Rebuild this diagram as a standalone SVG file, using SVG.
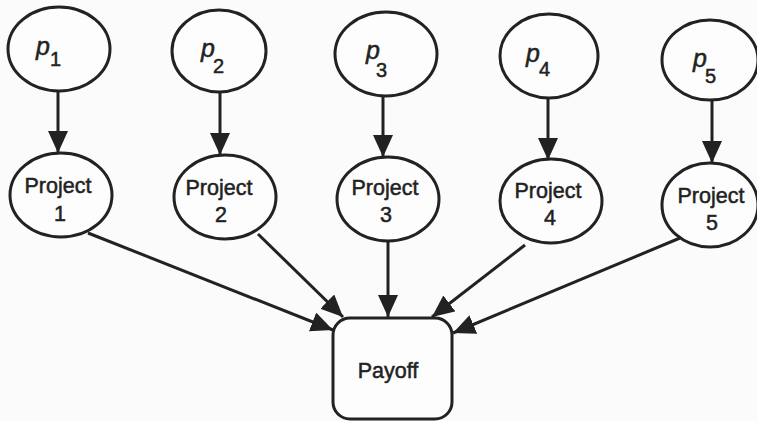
<svg xmlns="http://www.w3.org/2000/svg" width="757" height="421" viewBox="0 0 757 421">
  <style>
    .node { fill: #fdfdfd; stroke: #222; stroke-width: 3; }
    .edge { stroke: #222; stroke-width: 3; fill: none; marker-end: url(#arrow); }
    .lbl { font-family: "Liberation Sans", Arial, sans-serif; font-size: 21.5px; fill: #222; stroke: #222; stroke-width: 0.5; text-anchor: middle; }
    .var { font-family: "Liberation Sans", Arial, sans-serif; font-size: 20px; fill: #222; stroke: #222; stroke-width: 0.5; }
    .var .p { font-style: italic; font-size: 25px; }
  </style>
  <defs>
    <marker id="arrow" markerUnits="userSpaceOnUse" markerWidth="24" markerHeight="22" refX="22" refY="10" orient="auto">
      <path d="M0,0 L22,10 L0,20 Z" fill="#222"/>
    </marker>
  </defs>
  <rect width="757" height="421" fill="#fbfbfb"/>

  <!-- connectors -->
  <g id="connectors">
    <line class="edge" x1="58" y1="92" x2="58" y2="153"/>
    <line class="edge" x1="220" y1="93" x2="220" y2="155"/>
    <line class="edge" x1="383" y1="96" x2="383" y2="157"/>
    <line class="edge" x1="548" y1="98" x2="548" y2="160"/>
    <line class="edge" x1="712" y1="101" x2="712" y2="163"/>
    <line class="edge" x1="88" y1="233" x2="333" y2="330"/>
    <line class="edge" x1="258" y1="234" x2="343" y2="317"/>
    <line class="edge" x1="388" y1="241" x2="388" y2="317"/>
    <line class="edge" x1="525" y1="245" x2="432" y2="317"/>
    <line class="edge" x1="680" y1="238" x2="453" y2="333"/>
  </g>

  <!-- probability nodes -->
  <g id="p1">
    <ellipse class="node" cx="59" cy="49" rx="51" ry="42"/>
    <text class="var" x="36" y="55"><tspan class="p">p</tspan><tspan x="50" y="66">1</tspan></text>
  </g>
  <g id="p2">
    <ellipse class="node" cx="219" cy="51" rx="47" ry="41"/>
    <text class="var" x="201" y="57"><tspan class="p">p</tspan><tspan x="213" y="73">2</tspan></text>
  </g>
  <g id="p3">
    <ellipse class="node" cx="386" cy="54" rx="51" ry="42"/>
    <text class="var" x="366" y="59"><tspan class="p">p</tspan><tspan x="376" y="77">3</tspan></text>
  </g>
  <g id="p4">
    <ellipse class="node" cx="549" cy="56" rx="49" ry="42"/>
    <text class="var" x="526" y="62"><tspan class="p">p</tspan><tspan x="539" y="76">4</tspan></text>
  </g>
  <g id="p5">
    <ellipse class="node" cx="710" cy="60" rx="48" ry="40"/>
    <text class="var" x="693" y="67"><tspan class="p">p</tspan><tspan x="705" y="83">5</tspan></text>
  </g>

  <!-- project nodes -->
  <g id="project1">
    <ellipse class="node" cx="61" cy="195" rx="51" ry="42"/>
    <text class="lbl" x="58" y="193">Project</text>
    <text class="lbl" x="60" y="221">1</text>
  </g>
  <g id="project2">
    <ellipse class="node" cx="225" cy="197" rx="51" ry="42"/>
    <text class="lbl" x="219" y="195">Project</text>
    <text class="lbl" x="221" y="222">2</text>
  </g>
  <g id="project3">
    <ellipse class="node" cx="388" cy="199" rx="51" ry="42"/>
    <text class="lbl" x="385" y="195">Project</text>
    <text class="lbl" x="386" y="222">3</text>
  </g>
  <g id="project4">
    <ellipse class="node" cx="551" cy="201" rx="51" ry="42"/>
    <text class="lbl" x="548" y="198">Project</text>
    <text class="lbl" x="550" y="225">4</text>
  </g>
  <g id="project5">
    <ellipse class="node" cx="710" cy="205" rx="48" ry="42"/>
    <text class="lbl" x="711" y="203">Project</text>
    <text class="lbl" x="712" y="230">5</text>
  </g>

  <!-- payoff node -->
  <g id="payoff">
    <rect class="node" x="333" y="318" width="119" height="101" rx="17" ry="17"/>
    <text class="lbl" x="388" y="378">Payoff</text>
  </g>
</svg>
